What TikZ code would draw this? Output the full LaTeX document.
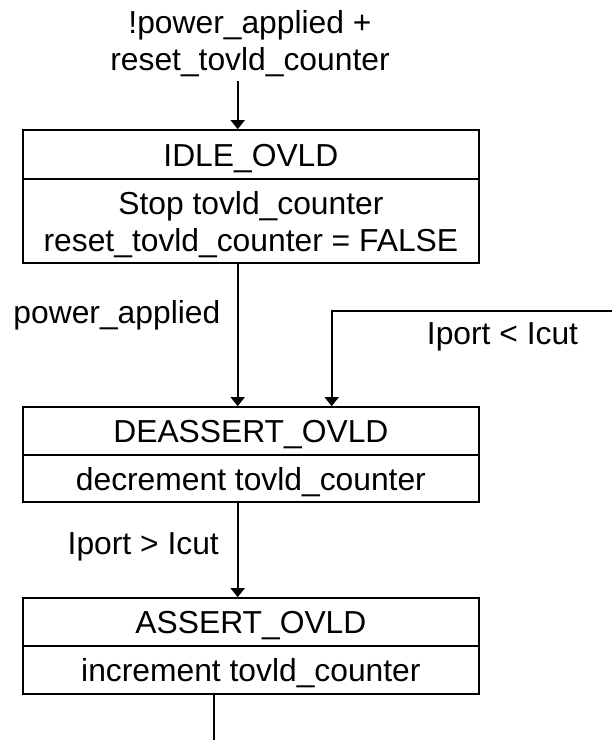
\documentclass[tikz,border=0pt]{standalone}
\usepackage{fontspec}
\setmainfont{Liberation Sans}
\usetikzlibrary{arrows.meta}
\begin{document}
\begin{tikzpicture}[x=1pt,y=-1pt,
  every node/.style={font=\fontsize{31.8}{37}\selectfont, inner sep=0pt},
  lw/.style={line width=1.7pt},
  part/.style={draw, lw, minimum width=456pt, text height=23pt, text depth=0pt},
  twoline/.style={align=center, text height=60pt, text depth=0pt},
  lbl/.style={text height=23pt, text depth=0pt},
  arr/.style={lw, -{Triangle[length=9pt,width=14pt]}}]
\useasboundingbox (0,0) rectangle (612,740);

% trigger text
\node[twoline] (trig) at (250,40) {!power\_applied +\\reset\_tovld\_counter};

% IDLE_OVLD
\node[part, minimum height=49pt] (idleH) at (250.9,154.5) {IDLE\_OVLD};
\node[part, twoline, minimum height=84pt] (idleB) at (250.9,221) {Stop tovld\_counter\\reset\_tovld\_counter = FALSE};

% DEASSERT_OVLD
\node[part, minimum height=48pt] (deH) at (250.9,431) {DEASSERT\_OVLD};
\node[part, minimum height=47pt] (deB) at (250.9,478.5) {decrement tovld\_counter};

% ASSERT_OVLD
\node[part, minimum height=48pt] (asH) at (250.9,622) {ASSERT\_OVLD};
\node[part, minimum height=48pt] (asB) at (250.9,670) {increment tovld\_counter};

% labels
\node[lbl, anchor=east] (lpa) at (220.5,312) {power\_applied};
\node[lbl] (llt) at (502.5,332.5) {Iport < Icut};
\node[lbl, anchor=east] (lgt) at (219,543) {Iport > Icut};

% connectors
\coordinate (ax) at (237.7,81);
\draw[arr] (ax) -- (ax |- idleH.north);
\draw[arr] (ax |- idleB.south) -- (ax |- deH.north);
\coordinate (rin) at (612,310.7);
\coordinate (rc) at (331.7,310.7);
\draw[arr] (rin) -- (rc) -- (rc |- deH.north);
\draw[arr] (ax |- deB.south) -- (ax |- asH.north);
\coordinate (bx) at (214,740);
\draw[lw] (bx |- asB.south) -- (bx);
\end{tikzpicture}
\end{document}
